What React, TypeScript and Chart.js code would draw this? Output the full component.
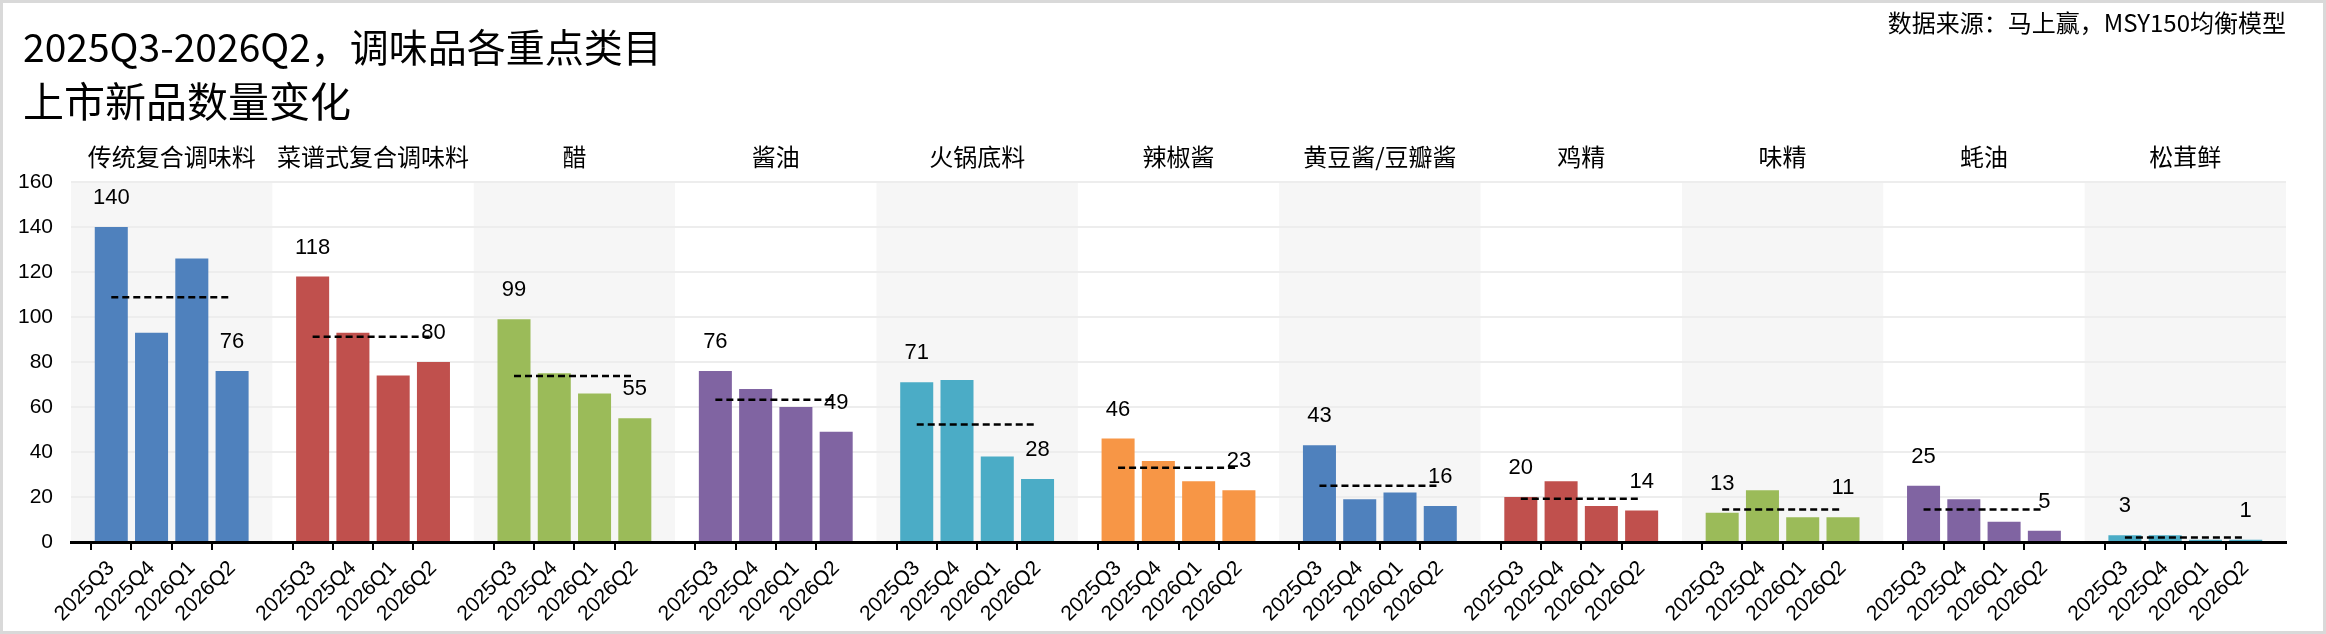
import React, { useEffect, useRef } from "react";
import { Chart, registerables } from "chart.js";

Chart.register(...registerables);

// ---- data ----
const categories = [
  "传统复合调味料",
  "菜谱式复合调味料",
  "醋",
  "酱油",
  "火锅底料",
  "辣椒酱",
  "黄豆酱/豆瓣酱",
  "鸡精",
  "味精",
  "蚝油",
  "松茸鲜",
];
const quarters = ["2025Q3", "2025Q4", "2026Q1", "2026Q2"];
const q2025Q3 = [140, 118, 99, 76, 71, 46, 43, 20, 13, 25, 3];
const q2025Q4 = [93, 93, 75, 68, 72, 36, 19, 27, 23, 19, 3];
const q2026Q1 = [126, 74, 66, 60, 38, 27, 22, 16, 11, 9, 1];
const q2026Q2 = [76, 80, 55, 49, 28, 23, 16, 14, 11, 5, 1];
const yMax = 160;
const yStep = 20;
const titleLines = ["2025Q3-2026Q2，调味品各重点类目", "上市新品数量变化"];
const sourceText = "数据来源：马上赢，MSY150均衡模型";

// ---- styles ----
const palette = ["#4F81BD", "#C0504D", "#9BBB59", "#8064A2", "#4BACC6", "#F79646"];
const CJK = '"Noto Sans CJK SC", sans-serif';
const NUM = '"Liberation Sans", Arial, sans-serif';

const SLOT = 5; // one empty boundary slot + 4 quarters per category

export default function App() {
  const ref = useRef<HTMLCanvasElement | null>(null);

  useEffect(() => {
    document.body.style.margin = "0";
    const canvas = ref.current;
    if (!canvas) return;

    const series = [q2025Q3, q2025Q4, q2026Q1, q2026Q2];
    const labels: string[] = [];
    const barData: (number | null)[] = [];
    const avgData: (number | null)[] = [];
    const barColors: string[] = [];
    categories.forEach((_, g) => {
      labels.push("");
      barData.push(null);
      avgData.push(null);
      barColors.push("transparent");
      const vals = series.map((s) => s[g]);
      const avg = vals.reduce((a, b) => a + b, 0) / vals.length;
      quarters.forEach((q, k) => {
        labels.push(q);
        barData.push(vals[k]);
        avgData.push(avg);
        barColors.push(palette[g % palette.length]);
      });
    });
    labels.push("");
    barData.push(null);
    avgData.push(null);
    barColors.push("transparent");

    const decor = {
      id: "decor",
      beforeDraw(chart: any) {
        const { ctx, chartArea } = chart;
        const x = chart.scales.x;
        ctx.save();
        ctx.fillStyle = "#F6F6F6";
        categories.forEach((_, g) => {
          if (g % 2 !== 0) return;
          const x0 = x.getPixelForValue(g * SLOT);
          const x1 = x.getPixelForValue(g * SLOT + SLOT);
          ctx.fillRect(x0, chartArea.top, x1 - x0, chartArea.bottom - chartArea.top);
        });
        ctx.restore();
      },
      afterDatasetsDraw(chart: any) {
        const { ctx, chartArea } = chart;
        const x = chart.scales.x;
        const meta = chart.getDatasetMeta(1);
        ctx.save();
        // data labels on first and last bar of every category
        ctx.fillStyle = "#000";
        ctx.font = `22px ${NUM}`;
        ctx.textAlign = "center";
        ctx.textBaseline = "middle";
        categories.forEach((_, g) => {
          [g * SLOT + 1, g * SLOT + 4].forEach((i) => {
            const el = meta.data[i];
            if (!el) return;
            ctx.fillText(String(barData[i]), el.x, el.y - 29);
          });
        });
        // category headers
        ctx.font = `24px ${CJK}`;
        categories.forEach((c, g) => {
          const x0 = x.getPixelForValue(g * SLOT);
          const x1 = x.getPixelForValue(g * SLOT + SLOT);
          ctx.fillText(c, (x0 + x1) / 2, 154);
        });
        // title
        ctx.textAlign = "left";
        ctx.font = `39px ${CJK}`;
        ctx.fillText(titleLines[0], 20, 44);
        ctx.font = `41px ${CJK}`;
        ctx.fillText(titleLines[1], 20, 98);
        // source
        ctx.textAlign = "right";
        ctx.font = `24px ${CJK}`;
        ctx.fillText(sourceText, chartArea.right, 20);
        ctx.restore();
      },
    };

    const chart = new Chart(canvas, {
      type: "bar",
      data: {
        labels,
        datasets: [
          {
            type: "line",
            data: avgData,
            borderColor: "#000",
            borderWidth: 2.5,
            borderDash: [7, 4],
            pointRadius: 0,
            spanGaps: false,
            fill: false,
            order: 0,
          } as any,
          {
            type: "bar",
            data: barData,
            backgroundColor: barColors,
            categoryPercentage: 1,
            barPercentage: 0.82,
            order: 1,
          },
        ],
      },
      options: {
        responsive: false,
        animation: false,
        devicePixelRatio: 1,
        layout: { padding: { top: 179, right: 37, left: 0, bottom: 0 } },
        plugins: {
          legend: { display: false },
          tooltip: { enabled: false },
          title: { display: false },
        },
        scales: {
          x: {
            type: "category",
            offset: false,
            afterFit(scale: any) {
              scale.height = 89;
            },
            border: { display: true, color: "#000", width: 3 },
            grid: {
              drawOnChartArea: false,
              drawTicks: true,
              tickLength: 8,
              lineWidth: 2,
              color: (c: any) => (c.index % SLOT === 0 ? "rgba(0,0,0,0)" : "#000"),
            },
            ticks: {
              autoSkip: false,
              maxRotation: 45,
              minRotation: 45,
              padding: 6,
              color: "#000",
              font: { family: NUM, size: 21 },
            },
          },
          y: {
            min: 0,
            max: yMax,
            afterFit(scale: any) {
              scale.width = 68;
            },
            border: { display: false },
            grid: {
              drawTicks: false,
              color: "#EDEDED",
              lineWidth: 2,
            },
            ticks: {
              stepSize: yStep,
              padding: 18,
              color: "#000",
              font: { family: NUM, size: 21 },
            },
          },
        },
      },
      plugins: [decor],
    });

    return () => chart.destroy();
  }, []);

  return (
    <div
      style={{
        position: "absolute",
        left: 0,
        top: 0,
        width: 2326,
        height: 634,
        border: "3px solid #D9D9D9",
        boxSizing: "border-box",
        background: "#fff",
      }}
    >
      <canvas ref={ref} width={2320} height={628} style={{ display: "block", width: 2320, height: 628 }} />
    </div>
  );
}
